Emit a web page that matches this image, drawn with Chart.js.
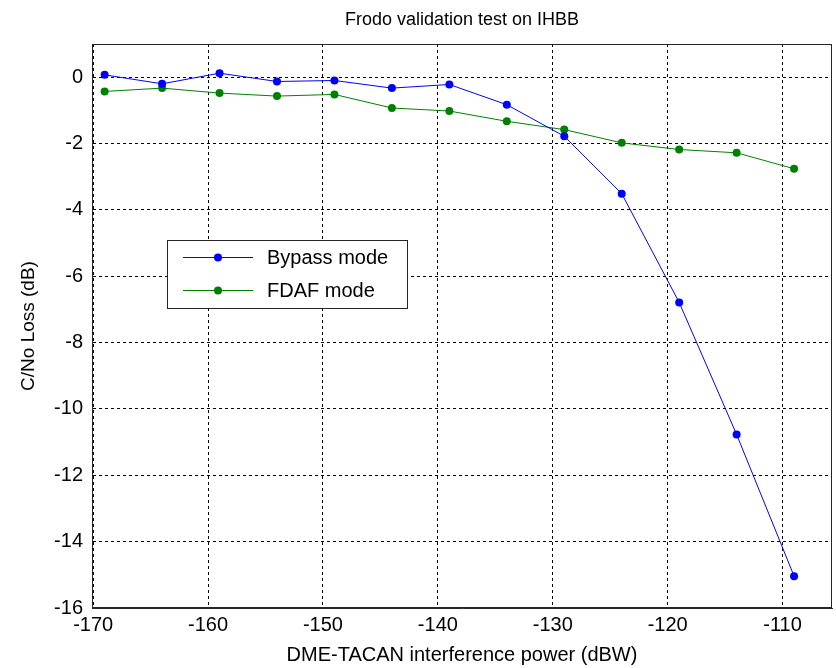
<!DOCTYPE html>
<html>
<head>
<meta charset="utf-8">
<script src="https://cdn.jsdelivr.net/npm/chart.js@4"></script>
<style>
  html, body { margin: 0; padding: 0; background: #fff; }
  #wrap { width: 836px; height: 668px; }
</style>
</head>
<body>
<div id="wrap"><canvas id="c" width="836" height="668"></canvas></div>
<script>
const powerDBW = [-169, -164, -159, -154, -149, -144, -139, -134, -129, -124, -119, -114, -109];
const bypassLoss = [0.07, -0.20, 0.12, -0.13, -0.10, -0.33, -0.22, -0.83, -1.78, -3.51, -6.79, -10.77, -15.04];
const fdafLoss = [-0.43, -0.33, -0.48, -0.57, -0.52, -0.93, -1.02, -1.33, -1.58, -1.98, -2.18, -2.28, -2.76];
const xTicks = [-170, -160, -150, -140, -130, -120, -110];
const yTicks = [-16, -14, -12, -10, -8, -6, -4, -2, 0];
const seriesNames = ['Bypass mode', 'FDAF mode'];
const titleText = 'Frodo validation test on IHBB';
const xTitle = 'DME-TACAN interference power (dBW)';
const yTitle = 'C/No Loss (dB)';

const FONT = 'Liberation Sans, Arial, Helvetica, sans-serif';

function pts(ys) { return powerDBW.map((x, i) => ({ x: x, y: ys[i] })); }

const framePlugin = {
  id: 'frame',
  afterDatasetsDraw(chart) {
    const { ctx, chartArea: a } = chart;
    ctx.save();
    ctx.strokeStyle = '#262626';
    ctx.lineWidth = 1;
    ctx.setLineDash([]);
    ctx.strokeRect(Math.round(a.left) + 0.5, Math.round(a.top) + 0.5,
                   Math.round(a.right - a.left) - 1, Math.round(a.bottom - a.top) - 1);
    ctx.restore();
  }
};

const legendPlugin = {
  id: 'boxLegend',
  afterDraw(chart) {
    const { ctx } = chart;
    const bx = 167, by = 240, bw = 240, bh = 68;
    ctx.save();
    ctx.fillStyle = '#fff';
    ctx.fillRect(bx, by, bw, bh);
    ctx.strokeStyle = '#262626';
    ctx.lineWidth = 1;
    ctx.strokeRect(bx + 0.5, by + 0.5, bw, bh);
    ctx.font = '20px ' + FONT;
    ctx.textBaseline = 'middle';
    chart.data.datasets.forEach((ds, i) => {
      const y = by + 17 + i * 33;
      ctx.strokeStyle = ds.borderColor;
      ctx.lineWidth = 1;
      ctx.beginPath();
      ctx.moveTo(183, y + 0.5);
      ctx.lineTo(253, y + 0.5);
      ctx.stroke();
      ctx.fillStyle = ds.backgroundColor;
      ctx.beginPath();
      ctx.arc(218, y + 0.5, 4, 0, Math.PI * 2);
      ctx.fill();
      ctx.fillStyle = '#000';
      ctx.fillText(ds.label, 267, y + 1);
    });
    ctx.restore();
  }
};

new Chart(document.getElementById('c'), {
  type: 'line',
  data: {
    datasets: [
      { label: seriesNames[0], data: pts(bypassLoss), borderColor: '#0000ff', backgroundColor: '#0000ff',
        borderWidth: 1, pointRadius: 4, pointBorderWidth: 0, tension: 0 },
      { label: seriesNames[1], data: pts(fdafLoss), borderColor: '#008000', backgroundColor: '#008000',
        borderWidth: 1, pointRadius: 4, pointBorderWidth: 0, tension: 0 }
    ]
  },
  options: {
    responsive: false,
    animation: false,
    layout: { padding: { top: 0, right: 4, bottom: 0, left: 0 } },
    plugins: {
      legend: { display: false },
      tooltip: { enabled: false },
      title: {
        display: true, text: titleText, color: '#000', fullSize: false,
        font: { family: FONT, size: 18, weight: 'normal' },
        padding: { top: 9, bottom: 13.4 }
      }
    },
    scales: {
      x: {
        type: 'linear', min: -170.1, max: -105.7,
        afterBuildTicks(s) { s.ticks = xTicks.map(v => ({ value: v })); },
        afterFit(s) { s.height = 60; },
        ticks: { color: '#000', font: { family: FONT, size: 20 }, padding: 5, maxRotation: 0,
                 callback: v => String(v) },
        grid: { color: '#000', lineWidth: 1, drawTicks: false },
        border: { display: true, color: '#262626', dash: [3, 3] },
        title: { display: true, text: xTitle, color: '#000',
                 font: { family: FONT, size: 20 }, padding: { top: 0, bottom: 1 } }
      },
      y: {
        type: 'linear', min: -16, max: 1,
        afterBuildTicks(s) { s.ticks = yTicks.map(v => ({ value: v })); },
        afterFit(s) { s.width = 92; },
        ticks: { color: '#000', font: { family: FONT, size: 20 }, padding: 9,
                 callback: v => String(v) },
        grid: { color: '#000', lineWidth: 1, drawTicks: false },
        border: { display: true, color: '#262626', dash: [3, 3] },
        title: { display: true, text: yTitle, color: '#000',
                 font: { family: FONT, size: 19 }, padding: { top: 17, bottom: 0 } }
      }
    }
  },
  plugins: [framePlugin, legendPlugin]
});
</script>
</body>
</html>
